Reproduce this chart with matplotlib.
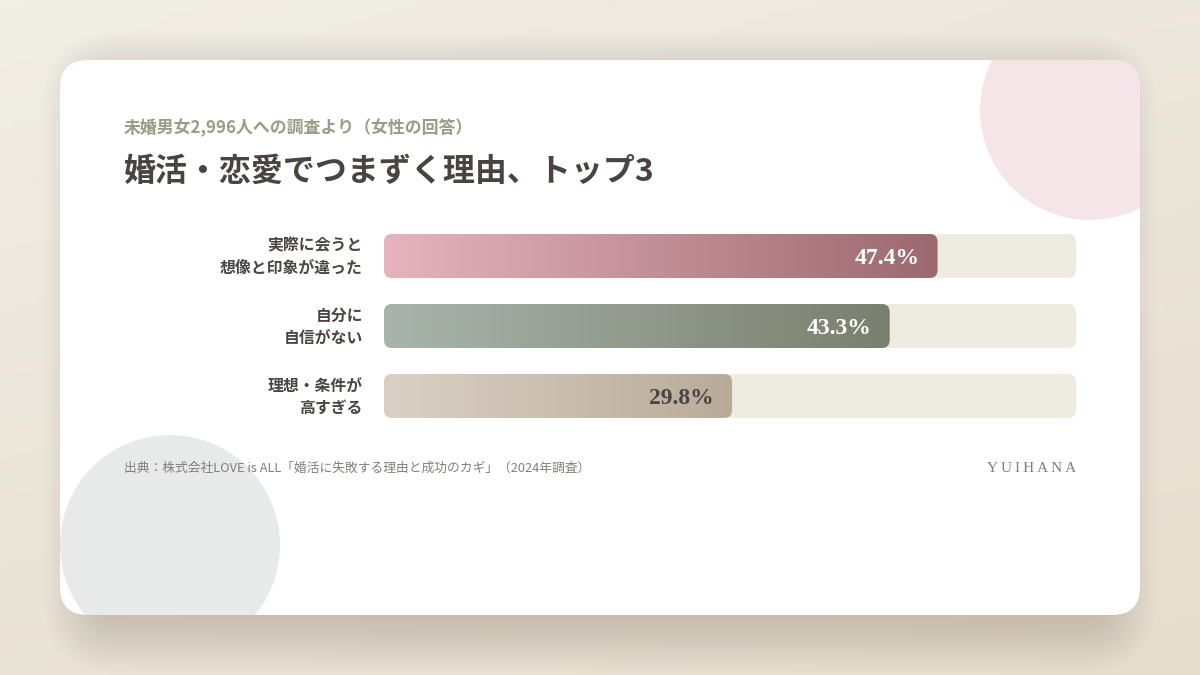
import numpy as np
import matplotlib
matplotlib.use('Agg')
import matplotlib.pyplot as plt
from matplotlib.patches import FancyBboxPatch, Circle
from matplotlib.colors import LinearSegmentedColormap
from matplotlib.transforms import offset_copy

# data
labels = ['実際に会うと\n想像と印象が違った', '自分に\n自信がない', '理想・条件が\n高すぎる']
values = [47.4, 43.3, 29.8]
value_text = ['47.4%', '43.3%', '29.8%']
bar_colors = [('#E6B4BD', '#9C6970'), ('#A9B4AC', '#7A806E'), ('#DAD0C5', '#B8AB99')]
value_colors = ['white', 'white', '#4A4440']
scale_max = 59.25

subtitle = '未婚男女2,996人への調査より（女性の回答）'
title = '婚活・恋愛でつまずく理由、トップ3'
source = '出典：株式会社LOVE is ALL「婚活に失敗する理由と成功のカギ」（2024年調査）'
brand = 'YUIHANA'

JP = ['Noto Sans CJK JP', 'DejaVu Sans']
SERIF = ['Liberation Serif', 'DejaVu Serif']
plt.rcParams['font.family'] = JP

fig = plt.figure(figsize=(12, 6.75), dpi=100)

# background + card, in pixel coordinates
bg = fig.add_axes([0, 0, 1, 1])
bg.set_xlim(0, 1200); bg.set_ylim(675, 0); bg.axis('off')
yy, xx = np.mgrid[0:1:100j, 0:1:100j]
t = 0.35*xx + 0.65*yy
bgmap = LinearSegmentedColormap.from_list('bg', ['#F1EEE6', '#E6DDCD'])
bg.imshow(t, cmap=bgmap, extent=[0, 1200, 675, 0], aspect='auto', zorder=0)

# soft shadow, mostly below the card
for k in range(20):
    g = 3*k
    sh = FancyBboxPatch((100-g, 90-g), 1000+2*g, 525+2*g,
                        boxstyle='round,pad=0,rounding_size=%f' % (20+g),
                        fc='#7A6A50', ec='none', alpha=0.011, zorder=1)
    bg.add_patch(sh)

card = FancyBboxPatch((60, 60), 1080, 555, boxstyle='round,pad=0,rounding_size=28',
                      fc='white', ec='none', zorder=2)
bg.add_patch(card)
c1 = Circle((1090, 110), 110, fc='#F5E4E8', ec='none', zorder=3)
c2 = Circle((170, 545), 110, fc='#E8EAEA', ec='none', zorder=3)
for c in (c1, c2):
    bg.add_patch(c)
    c.set_clip_path(card)

bg.text(124, 128, subtitle, fontsize=12.2, fontweight='bold', color='#9C9C86',
        va='center', ha='left', zorder=5)
bg.text(124, 172, title, fontsize=23, fontweight='bold', color='#4A4440',
        va='center', ha='left', zorder=5)
bg.text(124, 468, source, fontsize=9.2, color='#857E77', va='center', ha='left', zorder=5)
bg.text(1076, 468, '\u2009'.join(brand), fontsize=11, color='#857E77', va='center', ha='right',
        family=SERIF, zorder=5)

# bars
ax = fig.add_axes([384/1200, 1-431/675, 692/1200, 210/675])
ax.set_zorder(5)
ax.patch.set_alpha(0)
ax.set_xlim(0, scale_max)
ax.set_ylim(len(values)-0.5, -0.5)
ax.axis('off')

bh = 44/70.
rx = 8 / (692/scale_max)
asp = (8/70.) / rx
grad = np.linspace(0, 1, 256).reshape(1, -1)
for i, (v, (c0, c1_)) in enumerate(zip(values, bar_colors)):
    track = FancyBboxPatch((0, i-bh/2), scale_max, bh, boxstyle='round,pad=0,rounding_size=%f' % rx,
                           mutation_aspect=asp, fc='#EEEBE0', ec='none', zorder=1)
    ax.add_patch(track)
    bar = FancyBboxPatch((0, i-bh/2), v, bh, boxstyle='round,pad=0,rounding_size=%f' % rx,
                         mutation_aspect=asp, fc='none', ec='none', zorder=2)
    ax.add_patch(bar)
    cm = LinearSegmentedColormap.from_list('b%d' % i, [c0, c1_])
    im = ax.imshow(grad, cmap=cm, extent=[0, v, i+bh/2, i-bh/2], aspect='auto', zorder=2)
    im.set_clip_path(bar)
    tr = offset_copy(ax.transData, fig=fig, x=-18, y=-2, units='dots')
    ax.text(v, i, value_text[i], transform=tr, ha='right', va='center', fontsize=17,
            fontweight='bold', color=value_colors[i], family=SERIF, zorder=3)
    lt = offset_copy(ax.transData, fig=fig, x=-21, y=-1, units='dots')
    ax.text(0, i, labels[i], transform=lt, ha='right', va='center', fontsize=11.4,
            fontweight='bold', color='#4B4540', linespacing=1.5, multialignment='right')

ax.set_xlim(0, scale_max)
ax.set_ylim(len(values)-0.5, -0.5)

fig.savefig('out.png', dpi=100)
